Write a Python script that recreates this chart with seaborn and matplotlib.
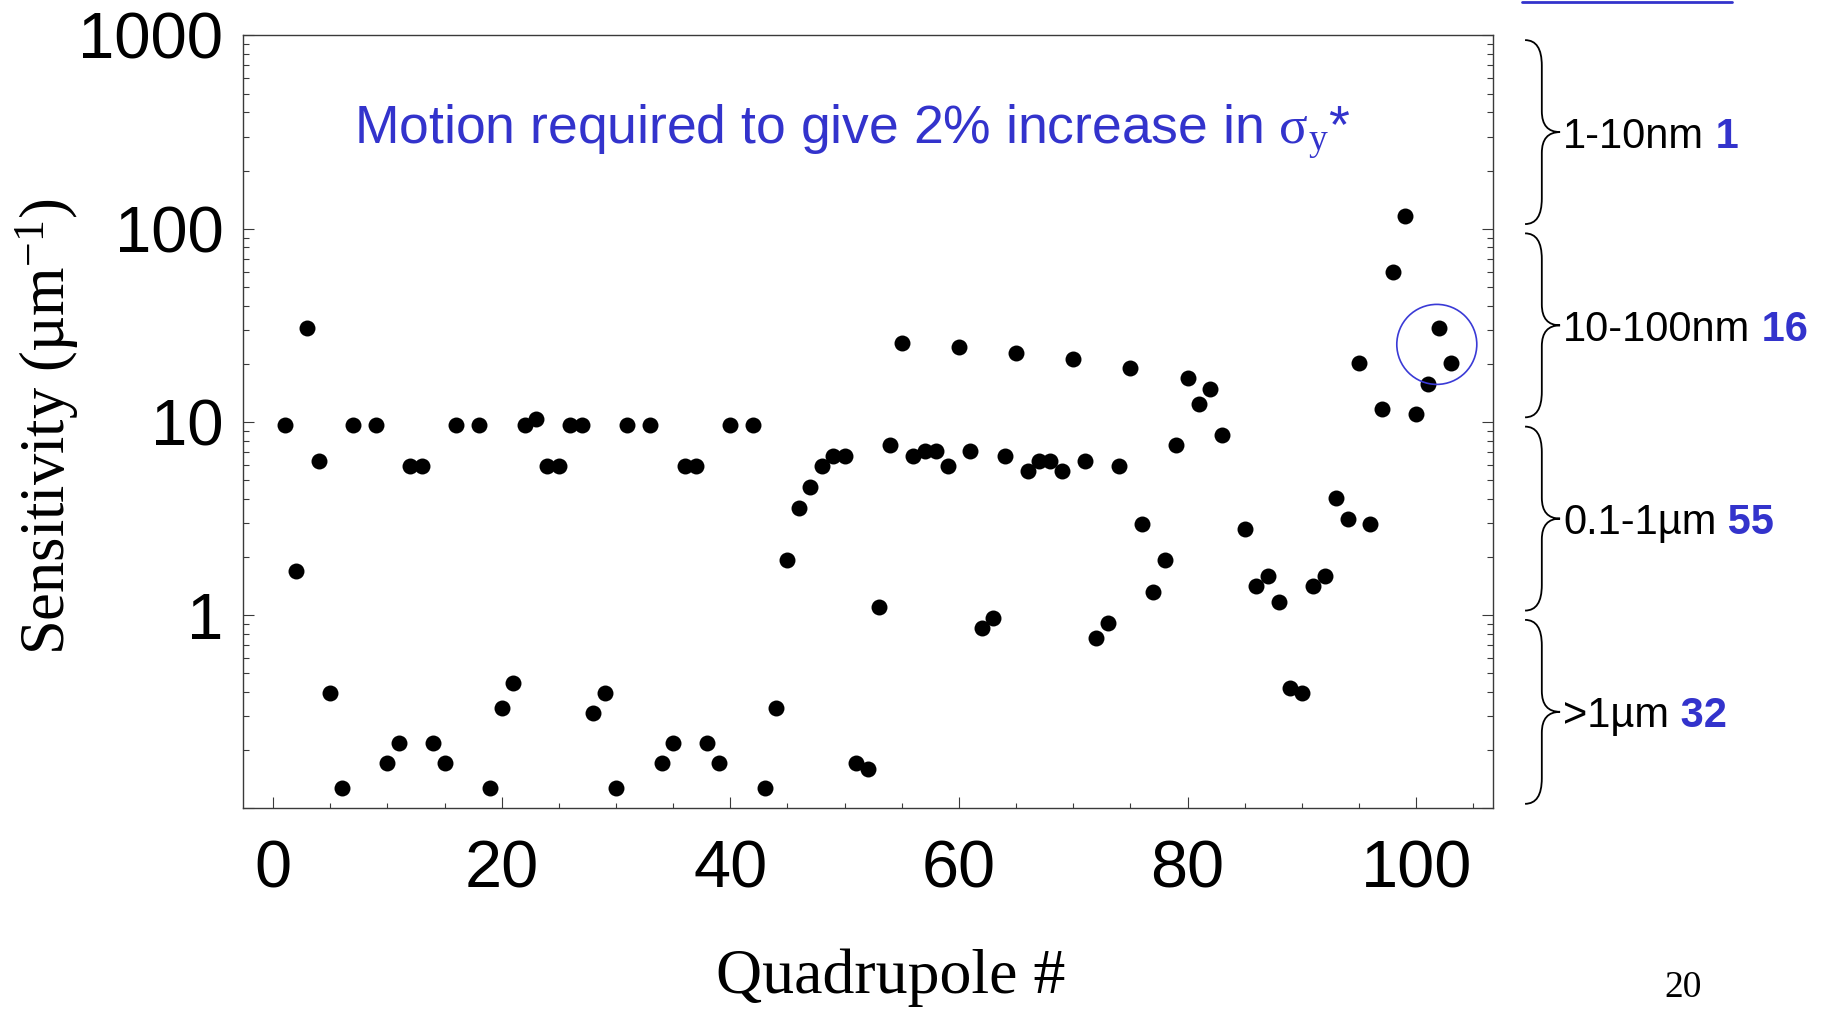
import numpy as np
import pandas as pd
import seaborn as sns
import matplotlib.pyplot as plt
from matplotlib.path import Path
from matplotlib.patches import PathPatch
from matplotlib.lines import Line2D
from matplotlib.ticker import FixedLocator, FixedFormatter, LogLocator, MultipleLocator, NullFormatter

# quadrupole index and sensitivity (1/um)
quadrupole = [1, 2, 3, 4, 5, 6, 7, 9, 10, 11, 12, 13, 14, 15, 16, 18, 19, 20, 21, 22,
              23, 24, 25, 26, 27, 28, 29, 30, 31, 33, 34, 35, 36, 37, 38, 39, 40, 42, 43, 44,
              45, 46, 47, 48, 49, 50, 51, 52, 53, 54, 55, 56, 57, 58, 59, 60, 61, 62, 63, 64,
              65, 66, 67, 68, 69, 70, 71, 72, 73, 74, 75, 76, 77, 78, 79, 80, 81, 82, 83, 85,
              86, 87, 88, 89, 90, 91, 92, 93, 94, 95, 96, 97, 98, 99, 100, 101, 102, 103]
sensitivity = [9.7, 1.70, 30.8, 6.28, 0.395, 0.127, 9.7, 9.7, 0.171, 0.217, 5.9, 5.9, 0.217, 0.171, 9.7, 9.7, 0.127, 0.33, 0.446, 9.7,
               10.4, 5.9, 5.9, 9.7, 9.7, 0.311, 0.395, 0.127, 9.7, 9.7, 0.171, 0.217, 5.9, 5.9, 0.217, 0.171, 9.7, 9.7, 0.127, 0.33,
               1.93, 3.59, 4.59, 5.9, 6.7, 6.7, 0.171, 0.161, 1.10, 7.59, 25.7, 6.7, 7.1, 7.1, 5.9, 24.3, 7.1, 0.86, 0.97, 6.7,
               22.7, 5.56, 6.3, 6.3, 5.56, 21.3, 6.27, 0.764, 0.914, 5.9, 19.0, 2.97, 1.32, 1.92, 7.59, 16.8, 12.4, 14.8, 8.57, 2.80,
               1.41, 1.59, 1.17, 0.42, 0.396, 1.41, 1.59, 4.06, 3.16, 20.2, 2.97, 11.7, 59.8, 117, 11.0, 15.7, 30.8, 20.2]

# circled pair at the end of the line
circle_quad = 101.8
circle_sens = 25.2

# tolerance bands, bottom decade first
band_labels = ['>1µm', '0.1-1µm', '10-100nm', '1-10nm']
band_counts = ['32', '55', '16', '1']
band_mid = [0.316, 3.16, 31.6, 316]

x_ticks = [0, 20, 40, 60, 80, 100]
y_ticks = [0.1, 1, 10, 100, 1000]
y_tick_labels = ['', '1', '10', '100', '1000']

sns.set_style('ticks')
plt.rcParams['font.family'] = ['Liberation Sans', 'DejaVu Sans']
plt.rcParams['text.color'] = 'black'
plt.rcParams['axes.labelcolor'] = 'black'
plt.rcParams['mathtext.fontset'] = 'custom'
plt.rcParams['mathtext.rm'] = 'Liberation Serif'
plt.rcParams['mathtext.it'] = 'Liberation Serif:italic'
plt.rcParams['mathtext.bf'] = 'Liberation Serif:bold'

blue = '#3333cc'
df = pd.DataFrame({'quad': quadrupole, 'sens': sensitivity})

fig = plt.figure(figsize=(18.31, 10.13), dpi=100)
ax = fig.add_axes([0.1326, 0.2019, 0.6827, 0.7631])
ax.set_yscale('log')
sns.scatterplot(data=df, x='quad', y='sens', ax=ax, color='black', s=132, linewidth=0)
ax.scatter([circle_quad], [circle_sens], s=3318, facecolors='none',
           edgecolors='#3a3ad6', linewidths=1.2, zorder=3)

ax.set_xlim(-2.65, 106.7)
ax.set_ylim(0.1, 1000)

ax.xaxis.set_major_locator(FixedLocator(x_ticks))
ax.xaxis.set_minor_locator(MultipleLocator(5))
ax.yaxis.set_major_locator(FixedLocator(y_ticks))
ax.yaxis.set_major_formatter(FixedFormatter(y_tick_labels))
ax.yaxis.set_minor_locator(LogLocator(base=10, subs=np.arange(2, 10)))
ax.yaxis.set_minor_formatter(NullFormatter())

for sp in ax.spines.values():
    sp.set_color('#3a3a3a')
    sp.set_linewidth(1.0)

ax.tick_params(which='both', direction='in', color='#3a3a3a', width=0.8, labelcolor='black')
ax.tick_params(axis='y', which='both', left=True, right=True)
ax.tick_params(axis='y', which='major', length=7.7, labelsize=47, pad=14)
ax.tick_params(axis='y', which='minor', length=4.5)
ax.tick_params(axis='x', which='major', length=7.7, labelsize=48, pad=22)
ax.tick_params(axis='x', which='minor', length=3.6)

ax.set_xlabel('Quadrupole #', fontsize=46, fontfamily='Liberation Serif', va='center')
ax.xaxis.set_label_coords(0.5186, -0.2193)
ax.set_ylabel('Sensitivity (µm$^{-1}$)', fontsize=45, fontfamily='Liberation Serif', va='center')
ax.yaxis.set_label_coords(-0.1566, 0.4948)

ax.text(0.089, 0.8596, r'Motion required to give 2% increase in $\mathrm{\sigma}_{\mathrm{y}}$*',
        transform=ax.transAxes, fontsize=38.5, color=blue, va='baseline', ha='left')

# braces and band labels on the right
ytr = ax.get_yaxis_transform()
xa, xb, xc = 1.0258, 1.0392, 1.0538
hook, cusp = 0.033, 0.027
for i in range(4):
    y0 = i / 4 + 0.006
    y1 = (i + 1) / 4 - 0.006
    ym = (i + 0.5) / 4
    verts = [(xa, y1), (xb, y1), (xb, y1 - hook),
             (xb, ym + cusp), (xb, ym), (xc, ym),
             (xb, ym), (xb, ym - cusp),
             (xb, y0 + hook), (xb, y0), (xa, y0)]
    codes = [Path.MOVETO, Path.CURVE3, Path.CURVE3,
             Path.LINETO, Path.CURVE3, Path.CURVE3,
             Path.CURVE3, Path.CURVE3,
             Path.LINETO, Path.CURVE3, Path.CURVE3]
    ax.add_patch(PathPatch(Path(verts, codes), fill=False, lw=1.3, edgecolor='black',
                           transform=ax.transAxes, clip_on=False))
    t = ax.text(1.0562, band_mid[i], band_labels[i], transform=ytr, fontsize=30,
                va='center_baseline', ha='left', clip_on=False)
    ax.annotate(' ' + band_counts[i], xy=(1, 0), xycoords=t, va='bottom', ha='left',
                fontsize=30, fontweight='bold', color=blue, annotation_clip=False)

fig.add_artist(Line2D([1522 / 1831, 1732 / 1831], [1 - 2 / 1013, 1 - 2 / 1013],
                      transform=fig.transFigure, color=blue, lw=2))
fig.text(1683 / 1831, 1 - 988 / 1013, '20', fontfamily='Liberation Serif', fontsize=27,
         ha='center', va='center')

fig.savefig('out.png', dpi=100)
